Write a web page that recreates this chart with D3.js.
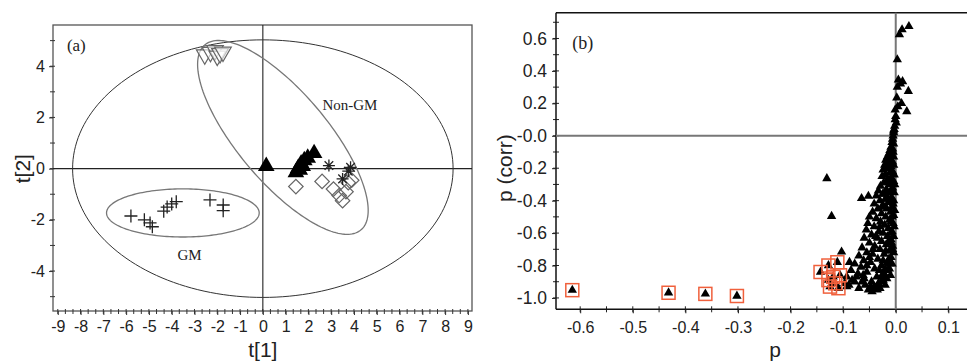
<!DOCTYPE html>
<html>
<head>
<meta charset="utf-8">
<script src="https://cdn.jsdelivr.net/npm/d3@7"></script>
<style>
  body { margin: 0; background: #fff; }
  svg { display: block; }
  .tick text { font-family: "Liberation Sans", Arial, sans-serif; fill: #222; }
  .ttl { font-family: "Liberation Sans", Arial, sans-serif; fill: #222; }
  .ann { font-family: "Liberation Serif", "Times New Roman", serif; fill: #222; }
</style>
</head>
<body>
<svg id="chart" width="967" height="363"></svg>
<script>
// ---- panel (a): score plot t[1] vs t[2]
const downTriangles = [[-2.55, 4.45], [-2.3, 4.55], [-2.1, 4.62], [-2.0, 4.4], [-1.88, 4.5], [-1.75, 4.56]];
const upTriangles = [[0.15, 0.1], [1.45, -0.15], [1.55, 0.02], [1.62, -0.05], [1.68, 0.2], [1.75, 0.1], [1.82, 0.32], [1.97, 0.42], [2.25, 0.6]];
const asterisks = [[2.9, 0.12], [3.85, 0.05], [3.75, -0.1], [3.5, -0.4]];
const diamonds = [[1.45, -0.7], [2.6, -0.5], [3.1, -0.8], [3.35, -1.05], [3.5, -1.25], [3.65, -0.9], [3.75, -0.55], [3.9, -0.45]];
const crosses = [[-5.79, -1.85], [-5.2, -2.0], [-4.95, -2.12], [-4.85, -2.27], [-4.35, -1.66], [-4.2, -1.5], [-4.0, -1.38], [-3.8, -1.29], [-2.32, -1.22], [-1.74, -1.42], [-1.74, -1.64]];
// ellipses: center, first and second semi-axis vectors (data units)
const ellipseT2 = { c: [0, 0], u: [8.35, 0], v: [0, 5.03] };
const ellipseGM = { c: [-3.51, -1.73], u: [3.35, 0], v: [0, 0.94] };
const ellipseNonGM = { c: [0.88, 1.22], u: [3.43, -3.61], v: [-1.5, -1.14] };
const xTicksA = d3.range(-9, 10, 1);
const yTicksA = [-4, -2, 0, 2, 4];

// ---- panel (b): S-plot p vs p(corr)
const sPoints = [
  [0.025,0.675],[0.012,0.655],[0.007,0.625],[0.003,0.47],[0.005,0.345],[0.013,0.335],[0.009,0.32],[0.003,0.30],
  [0.024,0.275],[0.002,0.235],[0.011,0.20],[0.021,0.15],[-0.001,0.16],[0.004,0.18],[0.0,0.12],[-0.001,0.10],
  [0.001,0.08],[-0.002,0.06],[-0.003,0.04],[-0.004,0.02],[-0.005,0.0],[-0.004,0.03],
  [-0.006,-0.02],[-0.007,-0.04],[-0.004,-0.05],[-0.009,-0.07],[-0.006,-0.08],[-0.011,-0.09],[-0.005,-0.10],[-0.013,-0.11],
  [-0.008,-0.12],[-0.016,-0.13],[-0.004,-0.13],[-0.011,-0.14],[-0.019,-0.15],[-0.006,-0.16],[-0.014,-0.17],[-0.021,-0.18],
  [-0.004,-0.18],[-0.009,-0.19],[-0.017,-0.20],[-0.024,-0.21],[-0.006,-0.22],[-0.012,-0.23],[-0.02,-0.24],[-0.003,-0.24],
  [-0.026,-0.25],[-0.009,-0.26],[-0.016,-0.27],[-0.004,-0.28],[-0.023,-0.29],[-0.011,-0.30],[-0.029,-0.31],[-0.006,-0.32],
  [-0.018,-0.33],[-0.033,-0.34],[-0.012,-0.35],[-0.003,-0.35],[-0.025,-0.36],[-0.037,-0.37],[-0.008,-0.38],[-0.02,-0.39],
  [-0.03,-0.40],[-0.004,-0.40],[-0.014,-0.41],[-0.041,-0.42],[-0.024,-0.43],[-0.007,-0.44],[-0.034,-0.45],[-0.017,-0.45],
  [-0.044,-0.47],[-0.01,-0.47],[-0.027,-0.48],[-0.004,-0.49],[-0.019,-0.50],[-0.05,-0.50],[-0.037,-0.51],[-0.012,-0.52],
  [-0.029,-0.53],[-0.053,-0.54],[-0.005,-0.54],[-0.021,-0.55],[-0.041,-0.56],[-0.014,-0.57],[-0.056,-0.58],[-0.032,-0.59],
  [-0.007,-0.59],[-0.024,-0.60],[-0.046,-0.61],[-0.016,-0.62],[-0.06,-0.63],[-0.035,-0.63],[-0.009,-0.64],[-0.027,-0.65],
  [-0.05,-0.66],[-0.018,-0.67],[-0.04,-0.68],[-0.006,-0.68],[-0.064,-0.69],[-0.03,-0.70],[-0.012,-0.71],[-0.055,-0.72],
  [-0.044,-0.73],[-0.022,-0.73],[-0.07,-0.74],[-0.009,-0.75],[-0.034,-0.76],[-0.061,-0.77],[-0.048,-0.78],[-0.016,-0.78],
  [-0.078,-0.79],[-0.027,-0.80],[-0.066,-0.81],[-0.04,-0.82],[-0.012,-0.82],[-0.085,-0.83],[-0.055,-0.84],[-0.022,-0.85],
  [-0.072,-0.85],[-0.093,-0.87],[-0.036,-0.87],[-0.06,-0.88],[-0.017,-0.88],[-0.083,-0.89],[-0.046,-0.90],[-0.028,-0.90],
  [-0.097,-0.91],[-0.089,-0.92],[-0.058,-0.92],[-0.02,-0.92],[-0.041,-0.93],[-0.093,-0.93],[-0.052,-0.95],[-0.035,-0.95],
  [-0.045,-0.96],[-0.07,-0.94],
  [-0.131,-0.263],[-0.122,-0.496],[-0.065,-0.386],[-0.052,-0.372],[-0.103,-0.716],[-0.088,-0.78],[-0.075,-0.87],[-0.064,-0.9],
  [-0.002,-0.30],[-0.008,-0.34],[-0.005,-0.42],[-0.002,-0.46],[-0.007,-0.50],[-0.003,-0.56],[-0.01,-0.60],[-0.004,-0.62],
  [-0.008,-0.66],[-0.004,-0.72],[-0.013,-0.76],[-0.007,-0.79],[-0.015,-0.83],[-0.01,-0.86],[-0.024,-0.89],[-0.03,-0.94],
  [-0.012,-0.20],[-0.015,-0.28],[-0.02,-0.36],[-0.027,-0.44],[-0.03,-0.56],[-0.038,-0.62],[-0.043,-0.70],[-0.05,-0.75],
  [-0.055,-0.80],[-0.062,-0.86],[-0.078,-0.90],
  [-0.009,-0.53],[-0.013,-0.65],[-0.006,-0.70],[-0.019,-0.71],[-0.011,-0.79],[-0.02,-0.82],[-0.026,-0.86],[-0.033,-0.91],
  [-0.038,-0.94],[-0.048,-0.93],[-0.031,-0.83],[-0.024,-0.77],[-0.014,-0.39],[-0.01,-0.27]
];
const selected = [
  [-0.615,-0.952],[-0.432,-0.968],[-0.362,-0.975],[-0.302,-0.988],
  [-0.143,-0.84],[-0.128,-0.80],[-0.111,-0.78],[-0.128,-0.89],[-0.119,-0.87],
  [-0.115,-0.91],[-0.125,-0.93],[-0.109,-0.94],[-0.106,-0.86]
];
const xTicksB = [-0.6, -0.5, -0.4, -0.3, -0.2, -0.1, 0.0, 0.1];
const yTicksB = [-1.0, -0.8, -0.6, -0.4, -0.2, 0.0, 0.2, 0.4, 0.6];

const svg = d3.select("#chart");

// ---------------- panel (a)
const xA = d3.scaleLinear().domain([-9.21, 9.18]).range([53, 472]);
const yA = d3.scaleLinear().domain([-5.56, 5.61]).range([311, 25]);
const gA = svg.append("g");

gA.append("rect")
  .attr("x", xA.range()[0]).attr("y", yA.range()[1])
  .attr("width", xA.range()[1] - xA.range()[0])
  .attr("height", yA.range()[0] - yA.range()[1])
  .attr("fill", "none").attr("stroke", "#555").attr("stroke-width", 1.3);

// minor ticks
const minorXA = d3.range(-9, 9.01, 1 / 3);
gA.append("g").selectAll("line").data(minorXA).join("line")
  .attr("x1", d => xA(d)).attr("x2", d => xA(d))
  .attr("y1", yA.range()[0] - 2).attr("y2", yA.range()[0] + 3)
  .attr("stroke", "#333");
const minorYA = d3.range(-5, 5.01, 1);
gA.append("g").selectAll("line").data(minorYA).join("line")
  .attr("y1", d => yA(d)).attr("y2", d => yA(d))
  .attr("x1", xA.range()[0] - 3).attr("x2", xA.range()[0] + 2)
  .attr("stroke", "#333");

const axA_x = gA.append("g")
  .attr("transform", `translate(0,${yA.range()[0]})`)
  .call(d3.axisBottom(xA).tickValues(xTicksA).tickSize(4).tickPadding(6).tickFormat(d => String(d)));
const axA_y = gA.append("g")
  .attr("transform", `translate(${xA.range()[0]},0)`)
  .call(d3.axisLeft(yA).tickValues(yTicksA).tickSize(4).tickPadding(4).tickFormat(d => String(d)));
[axA_x, axA_y].forEach(a => {
  a.select(".domain").remove();
  a.selectAll(".tick line").attr("stroke", "#333");
  a.selectAll(".tick text").style("font-size", "16px");
});

// zero lines
gA.append("line")
  .attr("x1", xA(0)).attr("x2", xA(0)).attr("y1", yA.range()[0]).attr("y2", yA.range()[1])
  .attr("stroke", "#222").attr("stroke-width", 1.1);
gA.append("line")
  .attr("x1", xA.range()[0]).attr("x2", xA.range()[1]).attr("y1", yA(0)).attr("y2", yA(0))
  .attr("stroke", "#222").attr("stroke-width", 1.1);

function ellipsePath(e, xs, ys) {
  const pts = d3.range(0, 2 * Math.PI + 0.001, Math.PI / 90).map(t => [
    e.c[0] + e.u[0] * Math.cos(t) + e.v[0] * Math.sin(t),
    e.c[1] + e.u[1] * Math.cos(t) + e.v[1] * Math.sin(t)
  ]);
  return d3.line().x(d => xs(d[0])).y(d => ys(d[1]))(pts);
}
gA.append("path").attr("d", ellipsePath(ellipseT2, xA, yA))
  .attr("fill", "none").attr("stroke", "#333").attr("stroke-width", 1);
gA.append("path").attr("d", ellipsePath(ellipseGM, xA, yA))
  .attr("fill", "none").attr("stroke", "#777").attr("stroke-width", 1.3);
gA.append("path").attr("d", ellipsePath(ellipseNonGM, xA, yA))
  .attr("fill", "none").attr("stroke", "#777").attr("stroke-width", 1.3);

// markers
const triBig = d3.symbol().type(d3.symbolTriangle).size(120)();
gA.append("g").selectAll("path").data(downTriangles).join("path")
  .attr("d", triBig)
  .attr("transform", d => `translate(${xA(d[0])},${yA(d[1])}) rotate(180)`)
  .attr("fill", "#fff").attr("fill-opacity", 0.6).attr("stroke", "#666").attr("stroke-width", 1.2);
gA.append("g").selectAll("path").data(upTriangles).join("path")
  .attr("d", triBig)
  .attr("transform", d => `translate(${xA(d[0])},${yA(d[1])})`)
  .attr("fill", "#000");
const diamond = d3.symbol().type(d3.symbolSquare).size(105)();
gA.append("g").selectAll("path").data(diamonds).join("path")
  .attr("d", diamond)
  .attr("transform", d => `translate(${xA(d[0])},${yA(d[1])}) rotate(45)`)
  .attr("fill", "none").attr("stroke", "#666").attr("stroke-width", 1.2);
gA.append("g").selectAll("path").data(asterisks).join("path")
  .attr("d", "M-6,0H6M0,-6V6M-4.3,-4.3L4.3,4.3M-4.3,4.3L4.3,-4.3")
  .attr("transform", d => `translate(${xA(d[0])},${yA(d[1])})`)
  .attr("fill", "none").attr("stroke", "#222").attr("stroke-width", 1.3);
gA.append("g").selectAll("path").data(crosses).join("path")
  .attr("d", "M-6.5,0H6.5M0,-6.5V6.5")
  .attr("transform", d => `translate(${xA(d[0])},${yA(d[1])})`)
  .attr("fill", "none").attr("stroke", "#222").attr("stroke-width", 1.3);

// annotations
gA.append("text").attr("class", "ann").attr("x", xA(-8.6)).attr("y", yA(4.83))
  .attr("dy", "0.35em").style("font-size", "17px").text("(a)");
gA.append("text").attr("class", "ann").attr("x", xA(3.82)).attr("y", yA(2.48))
  .attr("dy", "0.35em").attr("text-anchor", "middle").style("font-size", "15px").text("Non-GM");
gA.append("text").attr("class", "ann").attr("x", xA(-3.22)).attr("y", yA(-3.37))
  .attr("dy", "0.35em").attr("text-anchor", "middle").style("font-size", "15px").text("GM");

// axis titles
gA.append("text").attr("class", "ttl").attr("x", xA(0)).attr("y", 357)
  .attr("text-anchor", "middle").style("font-size", "21px").text("t[1]");
gA.append("text").attr("class", "ttl")
  .attr("transform", `translate(30,${yA(0)}) rotate(-90)`)
  .attr("text-anchor", "middle").style("font-size", "21px").text("t[2]");

// ---------------- panel (b)
const xB = d3.scaleLinear().domain([-0.646, 0.1355]).range([556, 967]);
const yB = d3.scaleLinear().domain([-1.07, 0.759]).range([309.3, 12.7]);
const gB = svg.append("g");

const minorXB = d3.range(-0.6, 0.151, 0.05);
gB.append("g").selectAll("line").data(minorXB).join("line")
  .attr("x1", d => xB(d)).attr("x2", d => xB(d))
  .attr("y1", yB.range()[0] - 3).attr("y2", yB.range()[0] + 3)
  .attr("stroke", "#222");
const minorYB = d3.range(-1.0, 0.71, 0.1);
gB.append("g").selectAll("line").data(minorYB).join("line")
  .attr("y1", d => yB(d)).attr("y2", d => yB(d))
  .attr("x1", xB.range()[0] - 3).attr("x2", xB.range()[0] + 3)
  .attr("stroke", "#222");

const axB_x = gB.append("g")
  .attr("transform", `translate(0,${yB.range()[0]})`)
  .call(d3.axisBottom(xB).tickValues(xTicksB).tickSize(4).tickPadding(8)
    .tickFormat(d => (Math.abs(d) < 1e-9 ? "0.0" : d.toFixed(1))));
const axB_y = gB.append("g")
  .attr("transform", `translate(${xB.range()[0]},0)`)
  .call(d3.axisLeft(yB).tickValues(yTicksB).tickSize(4).tickPadding(5)
    .tickFormat(d => (Math.abs(d) < 1e-9 ? "-0.0" : d.toFixed(1))));
[axB_x, axB_y].forEach(a => {
  a.select(".domain").attr("stroke", "#111").attr("stroke-width", 1.5);
  a.selectAll(".tick line").attr("stroke", "#222");
});
axB_x.selectAll(".tick text").style("font-size", "16px");
axB_y.selectAll(".tick text").style("font-size", "17.5px");
axB_x.select(".domain").attr("d", `M${xB.range()[0]},0H${xB.range()[1]}`);
axB_y.select(".domain").attr("d", `M0,${yB.range()[0]}V${yB.range()[1]}`);
gB.append("line")
  .attr("x1", xB.range()[0]).attr("x2", xB.range()[1]).attr("y1", yB.range()[1]).attr("y2", yB.range()[1])
  .attr("stroke", "#111").attr("stroke-width", 1.5);

// zero lines
gB.append("line")
  .attr("x1", xB(0)).attr("x2", xB(0)).attr("y1", yB.range()[0]).attr("y2", yB.range()[1])
  .attr("stroke", "#777").attr("stroke-width", 2);
gB.append("line")
  .attr("x1", xB.range()[0]).attr("x2", xB.range()[1]).attr("y1", yB(0)).attr("y2", yB(0))
  .attr("stroke", "#777").attr("stroke-width", 2);

const triSmall = d3.symbol().type(d3.symbolTriangle).size(38)();
gB.append("g").selectAll("path").data(sPoints.concat(selected)).join("path")
  .attr("d", triSmall)
  .attr("transform", d => `translate(${xB(d[0])},${yB(d[1])})`)
  .attr("fill", "#000");
gB.append("g").selectAll("rect").data(selected).join("rect")
  .attr("x", d => xB(d[0]) - 6.5).attr("y", d => yB(d[1]) - 6.5)
  .attr("width", 13).attr("height", 13)
  .attr("fill", "none").attr("stroke", "#f0603c").attr("stroke-width", 1.5);

gB.append("text").attr("class", "ann").attr("x", xB(-0.615)).attr("y", yB(0.572))
  .attr("dy", "0.35em").style("font-size", "18px").text("(b)");

gB.append("text").attr("class", "ttl").attr("x", 775).attr("y", 357)
  .attr("text-anchor", "middle").style("font-size", "21px").text("p");
gB.append("text").attr("class", "ttl")
  .attr("transform", `translate(512,${yB(-0.2)}) rotate(-90)`)
  .attr("text-anchor", "middle").style("font-size", "21px").text("p (corr)");
</script>
</body>
</html>
